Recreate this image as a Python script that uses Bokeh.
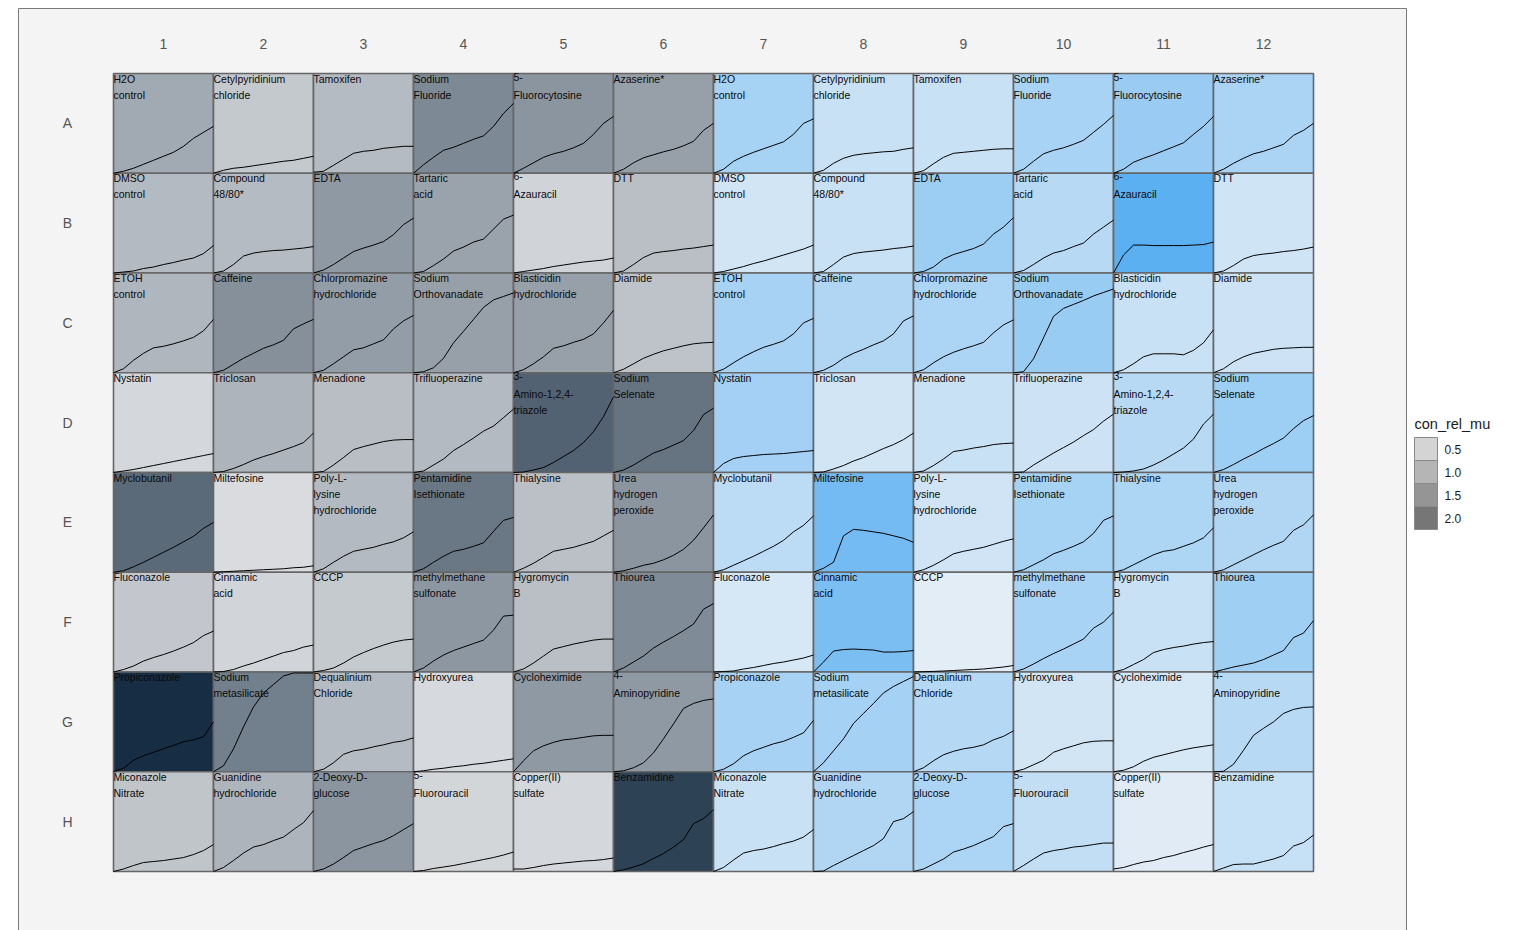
import numpy as np
from bokeh.plotting import figure
from bokeh.models import Range1d, ColumnDataSource, LinearColorMapper
from bokeh.transform import transform
from bokeh.core.properties import value
from bokeh.embed import file_html
from bokeh.resources import INLINE

# ---------------- data ----------------
row_labels = ["A", "B", "C", "D", "E", "F", "G", "H"]
col_labels = [str(i) for i in range(1, 13)]

compounds = [
    ["H2O\ncontrol", "Cetylpyridinium\nchloride", "Tamoxifen", "Sodium\nFluoride", "5-\nFluorocytosine", "Azaserine*"],
    ["DMSO\ncontrol", "Compound\n48/80*", "EDTA", "Tartaric\nacid", "6-\nAzauracil", "DTT"],
    ["ETOH\ncontrol", "Caffeine", "Chlorpromazine\nhydrochloride", "Sodium\nOrthovanadate", "Blasticidin\nhydrochloride", "Diamide"],
    ["Nystatin", "Triclosan", "Menadione", "Trifluoperazine", "3-\nAmino-1,2,4-\ntriazole", "Sodium\nSelenate"],
    ["Myclobutanil", "Miltefosine", "Poly-L-\nlysine\nhydrochloride", "Pentamidine\nIsethionate", "Thialysine", "Urea\nhydrogen\nperoxide"],
    ["Fluconazole", "Cinnamic\nacid", "CCCP", "methylmethane\nsulfonate", "Hygromycin\nB", "Thiourea"],
    ["Propiconazole", "Sodium\nmetasilicate", "Dequalinium\nChloride", "Hydroxyurea", "Cycloheximide", "4-\nAminopyridine"],
    ["Miconazole\nNitrate", "Guanidine\nhydrochloride", "2-Deoxy-D-\nglucose", "5-\nFluorouracil", "Copper(II)\nsulfate", "Benzamidine"],
]

# con_rel_mu, plate half 1 (columns 1-6)
con_rel_mu_left = [
    [1.14, 0.58, 0.82, 1.70, 1.51, 1.30],
    [0.85, 0.82, 1.43, 1.25, 0.39, 0.76],
    [0.90, 1.59, 1.36, 1.30, 1.30, 0.68],
    [0.33, 0.95, 0.77, 0.84, 2.40, 2.08],
    [2.25, 0.26, 0.85, 2.00, 0.74, 1.51],
    [0.61, 0.38, 0.57, 1.46, 0.76, 1.68],
    [3.34, 1.89, 0.82, 0.30, 1.43, 1.43],
    [0.65, 0.95, 1.51, 0.36, 0.33, 2.97],
]
# con_rel_mu, plate half 2 (columns 7-12)
con_rel_mu_right = [
    [1.62, 0.84, 0.84, 1.56, 1.89, 1.51],
    [0.64, 0.84, 1.84, 1.24, 3.29, 0.71],
    [1.58, 1.40, 1.49, 1.91, 0.84, 0.76],
    [1.69, 0.64, 0.84, 0.76, 1.24, 1.82],
    [1.13, 2.76, 0.69, 1.62, 1.47, 1.38],
    [0.56, 2.58, 0.27, 1.56, 0.84, 1.76],
    [1.58, 1.67, 1.29, 0.64, 0.56, 1.24],
    [0.87, 1.40, 1.49, 1.00, 0.33, 0.91],
]

time_points = [0, 1, 2, 3, 4, 5, 6, 7, 8, 9, 10]

growth_A = [
    [0, .02, .05, .09, .13, .17, .21, .27, .35, .41, .47],
    [0, .03, .05, .06, .075, .09, .105, .12, .13, .15, .17],
    [.01, .02, .08, .14, .20, .22, .23, .25, .26, .27, .27],
    [0, .085, .16, .23, .26, .30, .34, .375, .47, .60, .70],
    [0, .05, .105, .16, .195, .22, .255, .30, .39, .50, .57],
    [0, .04, .105, .155, .185, .215, .24, .275, .32, .43, .50],
    [0, .04, .12, .17, .21, .245, .28, .315, .39, .50, .545],
    [0, .03, .10, .15, .18, .195, .205, .215, .22, .24, .255],
    [0, .025, .095, .16, .20, .21, .22, .23, .24, .245, .245],
    [0, .04, .12, .195, .23, .255, .29, .33, .41, .49, .58],
    [0, .04, .11, .15, .185, .225, .265, .305, .39, .47, .57],
    [0, .04, .10, .15, .195, .22, .255, .29, .38, .43, .50],
]
growth_B = [
    [0, .01, .02, .045, .06, .085, .105, .13, .15, .195, .275],
    [0, .02, .085, .17, .20, .215, .225, .23, .24, .25, .265],
    [0, .03, .085, .15, .215, .25, .28, .315, .385, .485, .55],
    [0, .015, .075, .14, .22, .26, .31, .34, .44, .54, .58],
    [0, .015, .03, .045, .065, .08, .095, .11, .12, .13, .15],
    [0, .02, .085, .155, .20, .215, .225, .24, .25, .265, .28],
    [0, .015, .04, .065, .095, .12, .15, .18, .21, .24, .28],
    [0, .015, .085, .16, .195, .21, .22, .23, .245, .255, .27],
    [0, .015, .06, .14, .185, .215, .245, .29, .39, .46, .555],
    [0, .025, .085, .15, .20, .225, .265, .30, .39, .46, .53],
    [0, .18, .28, .28, .275, .275, .275, .275, .28, .285, .31],
    [0, .02, .075, .14, .175, .19, .20, .215, .225, .24, .26],
]
growth_C = [
    [0, .04, .125, .195, .25, .265, .29, .32, .355, .42, .535],
    [0, .025, .085, .145, .195, .245, .28, .325, .44, .49, .535],
    [0, .025, .09, .16, .23, .25, .29, .33, .44, .52, .575],
    [0, .01, .05, .145, .30, .415, .535, .655, .73, .765, .80],
    [0, .03, .09, .16, .245, .27, .305, .335, .39, .50, .625],
    [0, .035, .09, .145, .185, .22, .245, .27, .29, .30, .305],
    [0, .035, .10, .16, .21, .255, .285, .32, .39, .50, .545],
    [0, .025, .075, .145, .195, .235, .28, .32, .39, .52, .57],
    [0, .03, .10, .16, .205, .24, .27, .305, .40, .48, .53],
    [0, .01, .14, .35, .565, .645, .685, .725, .77, .805, .84],
    [0, .03, .09, .16, .19, .19, .19, .18, .225, .30, .43],
    [0, .04, .11, .16, .195, .215, .235, .245, .25, .255, .255],
]
growth_D = [
    [0, .015, .03, .05, .07, .09, .11, .13, .15, .17, .19],
    [0, .01, .04, .08, .125, .16, .19, .225, .26, .30, .395],
    [0, .01, .075, .15, .23, .26, .285, .31, .325, .33, .33],
    [0, .015, .075, .135, .22, .28, .345, .415, .465, .55, .635],
    [0, .005, .025, .05, .10, .16, .22, .30, .41, .56, .76],
    [0, .025, .075, .135, .195, .23, .275, .32, .42, .58, .645],
    [0, .09, .14, .16, .17, .18, .185, .19, .20, .21, .22],
    [0, .005, .035, .07, .115, .15, .195, .24, .28, .33, .395],
    [0, .015, .07, .135, .21, .225, .245, .26, .28, .29, .295],
    [0, .005, .075, .135, .195, .25, .305, .37, .43, .515, .585],
    [0, .005, .015, .035, .075, .125, .185, .245, .335, .485, .585],
    [0, .03, .08, .135, .185, .24, .29, .345, .44, .52, .57],
]
growth_E = [
    [0, .015, .055, .10, .15, .20, .25, .305, .36, .44, .50],
    [0, .005, .01, .015, .02, .025, .03, .035, .045, .05, .065],
    [0, .035, .10, .16, .21, .23, .25, .28, .305, .345, .405],
    [0, .035, .10, .16, .21, .23, .26, .295, .41, .52, .55],
    [0, .04, .09, .15, .21, .23, .25, .28, .31, .365, .42],
    [0, .015, .04, .07, .09, .125, .17, .23, .32, .445, .575],
    [0, .025, .07, .115, .16, .21, .26, .32, .405, .47, .565],
    [0, .04, .10, .365, .43, .42, .405, .39, .365, .34, .30],
    [0, .025, .07, .125, .185, .21, .23, .25, .28, .31, .335],
    [0, .025, .075, .125, .185, .22, .26, .305, .39, .52, .565],
    [0, .025, .075, .125, .175, .21, .225, .26, .295, .345, .445],
    [0, .025, .075, .125, .175, .225, .27, .31, .42, .475, .575],
]
growth_F = [
    [0, .025, .06, .11, .145, .175, .21, .25, .295, .365, .41],
    [0, .005, .025, .06, .09, .125, .16, .195, .215, .25, .27],
    [0, .015, .04, .09, .15, .195, .235, .27, .30, .32, .33],
    [0, .04, .11, .17, .215, .25, .285, .32, .42, .56, .57],
    [0, .03, .09, .16, .23, .255, .28, .30, .32, .33, .33],
    [0, .04, .10, .16, .24, .30, .355, .415, .48, .63, .685],
    [0, .005, .01, .03, .045, .065, .085, .10, .12, .14, .17],
    [0, .10, .21, .225, .23, .225, .22, .20, .20, .205, .215],
    [0, .003, .006, .01, .015, .02, .025, .03, .04, .05, .065],
    [0, .03, .08, .135, .185, .23, .28, .33, .44, .50, .60],
    [0, .025, .075, .125, .195, .225, .245, .26, .28, .295, .305],
    [0, .025, .05, .07, .09, .125, .17, .215, .345, .39, .515],
]
growth_G = [
    [0, .035, .115, .16, .195, .23, .265, .30, .32, .35, .50],
    [0, .06, .23, .45, .65, .79, .875, .96, .99, .99, .99],
    [0, .025, .09, .175, .21, .225, .25, .27, .295, .31, .34],
    [0, .01, .025, .035, .05, .06, .075, .085, .10, .115, .13],
    [0, .11, .21, .26, .295, .32, .33, .345, .36, .365, .365],
    [0, .01, .04, .09, .19, .33, .48, .635, .685, .715, .73],
    [0, .025, .08, .16, .21, .245, .28, .305, .345, .39, .515],
    [0, .09, .21, .33, .485, .585, .685, .79, .855, .905, .955],
    [0, .04, .11, .17, .205, .23, .245, .27, .32, .355, .41],
    [0, .025, .07, .115, .195, .23, .26, .29, .305, .31, .31],
    [0, .015, .05, .105, .145, .17, .195, .22, .24, .255, .27],
    [0, .005, .075, .215, .365, .435, .50, .585, .625, .645, .65],
]
growth_H = [
    [0, .025, .06, .09, .10, .11, .125, .14, .17, .21, .27],
    [0, .04, .11, .185, .245, .27, .31, .345, .42, .49, .61],
    [0, .025, .075, .14, .21, .245, .28, .31, .36, .42, .48],
    [0, .01, .03, .045, .06, .08, .10, .12, .14, .165, .195],
    [.025, .025, .04, .06, .075, .085, .095, .105, .11, .12, .135],
    [0, .017, .045, .078, .13, .18, .245, .32, .48, .53, .62],
    [0, .04, .115, .185, .21, .225, .25, .28, .305, .345, .42],
    [0, .005, .06, .11, .16, .21, .26, .33, .50, .53, .60],
    [0, .025, .075, .125, .195, .225, .26, .305, .35, .45, .48],
    [0, .06, .125, .185, .21, .225, .245, .255, .27, .285, .285],
    [.025, .04, .07, .095, .11, .14, .16, .19, .215, .245, .27],
    [0, .035, .07, .075, .075, .10, .125, .16, .255, .29, .365],
]
growth_rows = [growth_A, growth_B, growth_C, growth_D, growth_E, growth_F, growth_G, growth_H]

legend_values = [0.5, 1.0, 1.5, 2.0]
legend_labels = ["0.5", "1.0", "1.5", "2.0"]
legend_title = "con_rel_mu"

# ---------------- layout ----------------
W, H = 1520, 930
GRID_LEFT, GRID_TOP = 113, 73
CELL_W, CELL_H = 100.0, 99.75


def px2x(px):
    return (px - GRID_LEFT) / CELL_W + 0.5


def py2y(py):
    return (py - GRID_TOP) / CELL_H + 0.5


def ramp(c0, c1, n=256):
    a = np.array([int(c0[i:i + 2], 16) for i in (1, 3, 5)], float)
    b = np.array([int(c1[i:i + 2], 16) for i in (1, 3, 5)], float)
    out = []
    for k in range(n):
        v = np.round(a + (b - a) * k / (n - 1)).astype(int)
        out.append("#%02x%02x%02x" % tuple(v))
    return out


mapper_left = LinearColorMapper(palette=ramp("#dcdee1", "#132a40"), low=0.2, high=3.4)
mapper_right = LinearColorMapper(palette=ramp("#e6eef6", "#56aef1"), low=0.2, high=3.4)
mapper_legend = LinearColorMapper(palette=ramp("#d4d4d4", "#767676"), low=0.5, high=2.0)

p = figure(width=W, height=H,
           x_range=Range1d(px2x(0), px2x(W)),
           y_range=Range1d(py2y(H), py2y(0)),
           output_backend="svg", toolbar_location=None,
           x_axis_location=None, y_axis_location=None,
           min_border=0, outline_line_color=None,
           background_fill_color="white", border_fill_color="white")
p.grid.visible = False

# panel background
p.quad(left=px2x(18), right=px2x(1406), top=py2y(8), bottom=py2y(H + 10),
       fill_color="#f4f4f4", line_color="#7a7a7a", line_width=1)

# wells
left_src = dict(x=[], y=[], v=[])
right_src = dict(x=[], y=[], v=[])
for ri in range(8):
    for ci in range(6):
        left_src["x"].append(ci + 1)
        left_src["y"].append(ri + 1)
        left_src["v"].append(con_rel_mu_left[ri][ci])
        right_src["x"].append(ci + 7)
        right_src["y"].append(ri + 1)
        right_src["v"].append(con_rel_mu_right[ri][ci])

p.rect(x="x", y="y", width=1, height=1, source=ColumnDataSource(left_src),
       fill_color=transform("v", mapper_left), line_color="#666666", line_width=1.6)
p.rect(x="x", y="y", width=1, height=1, source=ColumnDataSource(right_src),
       fill_color=transform("v", mapper_right), line_color="#666666", line_width=1.6)

# growth curves
t_max = float(time_points[-1])
xs, ys = [], []
for ri, grow in enumerate(growth_rows):
    for ci, curve in enumerate(grow):
        col = ci + 1
        row = ri + 1
        xs.append([col - 0.5 + t / t_max for t in time_points])
        ys.append([row + 0.5 - h for h in curve])
p.multi_line(xs=xs, ys=ys, line_color="black", line_width=1)

# well labels
lab = dict(x=[], y=[], text=[], yo=[])
for ri in range(8):
    for ci in range(12):
        name = compounds[ri][ci % 6]
        for li, line in enumerate(name.split("\n")):
            lab["x"].append(ci + 0.5)
            lab["y"].append(ri + 0.5)
            lab["text"].append(line)
            lab["yo"].append(-1 + 16 * li)
p.text(x="x", y="y", text="text", y_offset="yo", x_offset=0, source=ColumnDataSource(lab),
       text_font=value("Liberation Sans"), text_font_size="10.5px", text_color="#0a0a0a",
       text_baseline="top", text_align="left")

# column / row labels
p.text(x=list(range(1, 13)), y=[0.5] * 12, text=col_labels, y_offset=-30,
       text_font=value("Liberation Sans"), text_font_size="14px", text_color="#555555",
       text_baseline="middle", text_align="center")
p.text(x=[0.5] * 8, y=list(range(1, 9)), text=row_labels, x_offset=-46,
       text_font=value("Liberation Sans"), text_font_size="14px", text_color="#555555",
       text_baseline="middle", text_align="center")

# legend (drawn)
p.text(x=[px2x(1414)], y=[py2y(423.5)], text=[legend_title],
       text_font=value("Liberation Sans"), text_font_size="14.5px", text_color="#1a1a1a",
       text_baseline="middle", text_align="left")
leg = dict(x=[px2x(1425.5)] * 4, y=[py2y(448.5 + 23 * i) for i in range(4)],
           v=legend_values, lx=[px2x(1444)] * 4, text=legend_labels)
leg_src = ColumnDataSource(leg)
p.rect(x="x", y="y", width=23, height=23, width_units="screen", height_units="screen",
       source=leg_src, fill_color=transform("v", mapper_legend), line_color="#8a8a8a", line_width=1)
p.text(x="lx", y="y", text="text", source=leg_src,
       text_font=value("Liberation Sans"), text_font_size="12px", text_color="#1a1a1a",
       text_baseline="middle", text_align="left")

open("out.html", "w").write(file_html(p, INLINE))
